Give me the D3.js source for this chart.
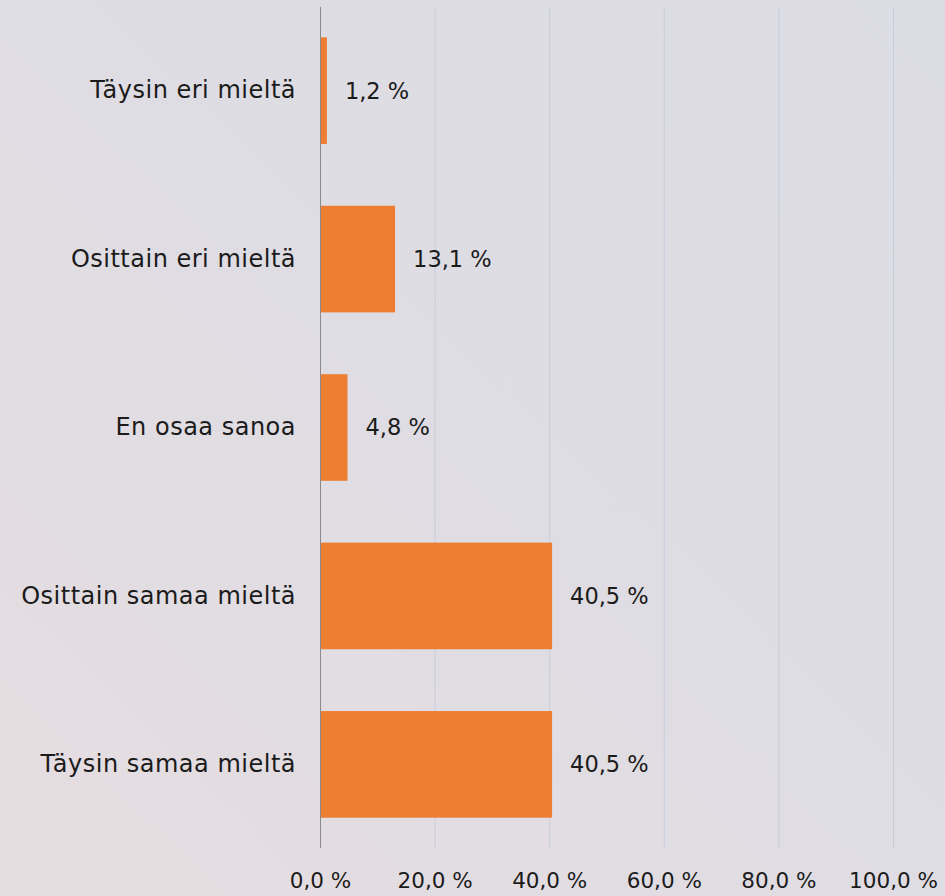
<!DOCTYPE html>
<html>
<head>
<meta charset="utf-8">
<script src="https://cdn.jsdelivr.net/npm/d3@7"></script>
<style>
  html, body { margin: 0; padding: 0; }
  body { width: 945px; height: 896px; overflow: hidden; }
  text { font-family: "Century Gothic", "URW Gothic", "DejaVu Sans", sans-serif; fill: #1b1b1b; }
</style>
</head>
<body>
<div class="chart"></div>
<script>
'use strict';

var categories = ['Täysin eri mieltä', 'Osittain eri mieltä', 'En osaa sanoa', 'Osittain samaa mieltä', 'Täysin samaa mieltä'];
var values = [1.2, 13.1, 4.8, 40.5, 40.5];
var ticks = [0, 20, 40, 60, 80, 100];

var width = 945, height = 896;
var margin = {top: 7, right: 52, bottom: 48, left: 320};

var fmt = function(v) { return v.toFixed(1).replace('.', ',') + ' %'; };

var svg = d3.select('.chart').append('svg')
    .attr('width', width)
    .attr('height', height);

// background, greyish with a faint pink corner
var defs = svg.append('defs');
var grad = defs.append('linearGradient')
    .attr('id', 'bg')
    .attr('x1', '1').attr('y1', '0')
    .attr('x2', '0').attr('y2', '1');
grad.append('stop').attr('offset', '0').attr('stop-color', '#dcdce4');
grad.append('stop').attr('offset', '0.55').attr('stop-color', '#dfdde3');
grad.append('stop').attr('offset', '1').attr('stop-color', '#e6dde0');
svg.append('rect')
    .attr('width', width)
    .attr('height', height)
    .attr('fill', 'url(#bg)');

var x = d3.scaleLinear()
    .domain([0, 100])
    .range([margin.left, width - margin.right]);

var y = d3.scaleBand()
    .domain(categories)
    .range([margin.top, height - margin.bottom])
    .paddingInner(0.367)
    .paddingOuter(0.18);

// gridlines
svg.append('g')
  .selectAll('line')
  .data(ticks.slice(1))
  .join('line')
    .attr('x1', function(d) { return x(d) + 0.5; })
    .attr('x2', function(d) { return x(d) + 0.5; })
    .attr('y1', margin.top)
    .attr('y2', height - margin.bottom)
    .attr('stroke', '#c5cddc')
    .attr('stroke-width', 1);

// bars
svg.append('g')
  .selectAll('rect')
  .data(values)
  .join('rect')
    .attr('x', x(0))
    .attr('y', function(d, i) { return y(categories[i]); })
    .attr('width', function(d) { return x(d) - x(0); })
    .attr('height', y.bandwidth())
    .attr('fill', '#ed7d31');

// value axis line
svg.append('line')
    .attr('x1', x(0) + 0.5)
    .attr('x2', x(0) + 0.5)
    .attr('y1', margin.top)
    .attr('y2', height - margin.bottom)
    .attr('stroke', '#8a8a8a')
    .attr('stroke-width', 1);

// value labels
svg.append('g')
  .selectAll('text')
  .data(values)
  .join('text')
    .attr('x', function(d) { return x(d) + 18; })
    .attr('y', function(d, i) { return y(categories[i]) + y.bandwidth() / 2; })
    .attr('dy', '0.35em')
    .attr('font-size', 22.5)
    .text(fmt);

// category labels
var yAxis = svg.append('g')
    .attr('transform', 'translate(' + x(0) + ',0)')
    .call(d3.axisLeft(y).tickSize(0).tickPadding(24));
yAxis.select('.domain').remove();
yAxis.selectAll('text')
    .attr('font-size', 24)
    .attr('letter-spacing', 0.5)
    .attr('font-family', null)
    .attr('fill', null);

// x tick labels
var xAxis = svg.append('g')
    .attr('transform', 'translate(0,' + (height - margin.bottom) + ')')
    .call(d3.axisBottom(x).tickValues(ticks).tickSize(0).tickPadding(25).tickFormat(fmt));
xAxis.select('.domain').remove();
xAxis.selectAll('text')
    .attr('font-size', 21.5)
    .attr('font-family', null)
    .attr('fill', null);
</script>
</body>
</html>
